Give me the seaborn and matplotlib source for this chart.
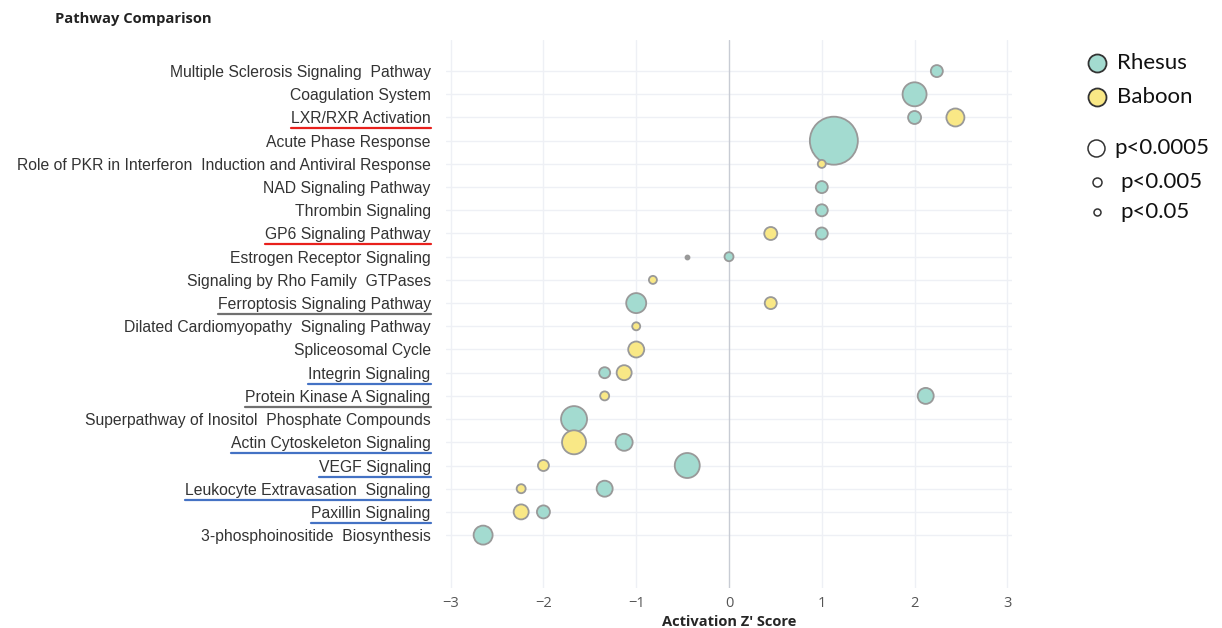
import matplotlib
matplotlib.use("Agg")
import matplotlib.pyplot as plt
import seaborn as sns
import pandas as pd

# pathways, top to bottom
pathways = [
    "Multiple Sclerosis Signaling  Pathway",
    "Coagulation System",
    "LXR/RXR Activation",
    "Acute Phase Response",
    "Role of PKR in Interferon  Induction and Antiviral Response",
    "NAD Signaling Pathway",
    "Thrombin Signaling",
    "GP6 Signaling Pathway",
    "Estrogen Receptor Signaling",
    "Signaling by Rho Family  GTPases",
    "Ferroptosis Signaling Pathway",
    "Dilated Cardiomyopathy  Signaling Pathway",
    "Spliceosomal Cycle",
    "Integrin Signaling",
    "Protein Kinase A Signaling",
    "Superpathway of Inositol  Phosphate Compounds",
    "Actin Cytoskeleton Signaling",
    "VEGF Signaling",
    "Leukocyte Extravasation  Signaling",
    "Paxillin Signaling",
    "3-phosphoinositide  Biosynthesis",
]

# Rhesus points (pathway, z-score, bubble diameter px)
rhesus_path = [0, 1, 2, 3, 5, 6, 7, 8, 10, 13, 14, 15, 16, 17, 18, 19, 20]
rhesus_z = [2.24, 2.0, 2.0, 1.13, 1.0, 1.0, 1.0, 0.0, -1.0, -1.34, 2.12, -1.67, -1.13, -0.45, -1.34, -2.0, -2.65]
rhesus_d = [12, 24, 13, 48, 12, 12, 12, 9, 20, 11, 16, 26, 17, 25, 16, 13, 19]

# Baboon points
baboon_path = [2, 4, 7, 8, 9, 10, 11, 12, 13, 14, 16, 17, 18, 19]
baboon_z = [2.44, 1.0, 0.45, -0.45, -0.82, 0.45, -1.0, -1.0, -1.13, -1.34, -1.67, -2.0, -2.24, -2.24]
baboon_d = [18, 8, 13, 4, 8, 12, 8, 16, 15, 9, 24, 11, 9, 15]

underline_colors = {
    "LXR/RXR Activation": "#e8201c",
    "GP6 Signaling Pathway": "#e8201c",
    "Ferroptosis Signaling Pathway": "#707070",
    "Protein Kinase A Signaling": "#707070",
    "Integrin Signaling": "#4472c4",
    "Actin Cytoskeleton Signaling": "#4472c4",
    "VEGF Signaling": "#4472c4",
    "Leukocyte Extravasation  Signaling": "#4472c4",
    "Paxillin Signaling": "#4472c4",
}

rhesus_color = "#a3dbd0"
baboon_color = "#f9e886"

df = pd.concat([
    pd.DataFrame({"row": rhesus_path, "z": rhesus_z, "d": rhesus_d, "species": "Rhesus"}),
    pd.DataFrame({"row": baboon_path, "z": baboon_z, "d": baboon_d, "species": "Baboon"}),
])
# the tiny estrogen baboon dot is grey
df["color"] = df["species"].map({"Rhesus": rhesus_color, "Baboon": baboon_color})
df.loc[(df["species"] == "Baboon") & (df["d"] <= 4), "color"] = "#999999"

sns.set_style("white")
plt.rcParams["font.family"] = ["Liberation Sans", "DejaVu Sans"]

fig = plt.figure(figsize=(12.22, 6.28), dpi=100)
ax = fig.add_axes([446 / 1222, 1 - 588 / 628, (1012 - 446) / 1222, (588 - 40) / 628])

# light grid
for i in range(len(pathways)):
    ax.axhline(i, color="#eef0f5", lw=1, zorder=0)
for xv in range(-3, 4):
    ax.axvline(xv, color="#c8ccd4" if xv == 0 else "#eef0f5", lw=1, zorder=0)

sizes = {v: (v * 0.72) ** 2 for v in df["d"].unique()}
for col, sub in df.groupby("color"):
    sns.scatterplot(data=sub, x="z", y="row", size="d", sizes=sizes, color=col,
                    edgecolor="#999999", linewidth=1.3, legend=False, ax=ax, zorder=3)

ax.set_xlim(-3.05, 3.05)
ax.set_ylim(len(pathways) - 1 + 2.28, -1.34)
ax.set_xticks(range(-3, 4))
ax.set_xticklabels(["\u22123", "\u22122", "\u22121", "0", "1", "2", "3"],
                   fontsize=10.5, color="#555555", fontfamily="Open Sans")
ax.set_yticks(range(len(pathways)))
ax.set_yticklabels(pathways, fontsize=11.3, color="#333333")
ax.tick_params(axis="x", length=0, pad=6)
ax.tick_params(axis="y", length=0, pad=11)
ax.set_xlabel("Activation Z' Score", fontsize=10.5, fontweight="bold", fontfamily="Open Sans", labelpad=3)
ax.set_ylabel("")
sns.despine(ax=ax, left=True, bottom=True, top=True, right=True)

# overlay in pixel coords for title, legend, underlines
ov = fig.add_axes([0, 0, 1, 1], zorder=5)
ov.set_xlim(0, 1222)
ov.set_ylim(628, 0)
ov.axis("off")
ov.patch.set_alpha(0)

ov.text(55, 19, "Pathway Comparison", fontsize=10.6, fontweight="bold", fontfamily="Open Sans",
        va="center", ha="left", color="#222222")

ov.scatter([1097], [63], s=(18 * 0.72) ** 2, color=rhesus_color, edgecolor="#333333", lw=1.3)
ov.scatter([1097], [97], s=(18 * 0.72) ** 2, color=baboon_color, edgecolor="#333333", lw=1.3)
legend_font = dict(fontsize=16, fontfamily="Lato", va="center", color="#111111")
ov.text(1117, 63, "Rhesus", **legend_font)
ov.text(1117, 97, "Baboon", **legend_font)
ov.scatter([1096], [148], s=(17 * 0.72) ** 2, color="white", edgecolor="#333333", lw=1.1)
ov.scatter([1097], [182], s=(9 * 0.72) ** 2, color="white", edgecolor="#333333", lw=1.1)
ov.scatter([1097], [212], s=(7 * 0.72) ** 2, color="white", edgecolor="#333333", lw=1.1)
ov.text(1114, 148, "p<0.0005", **legend_font)
ov.text(1120, 182, "p<0.005", **legend_font)
ov.text(1120, 212, "p<0.05", **legend_font)

fig.canvas.draw()
renderer = fig.canvas.get_renderer()
H = fig.bbox.height
for lab in ax.get_yticklabels():
    name = lab.get_text()
    if name in underline_colors:
        bb = lab.get_window_extent(renderer)
        ypix = H - bb.y0 + 2
        ov.plot([bb.x0, bb.x1], [ypix, ypix], color=underline_colors[name], lw=1.6)

fig.savefig("out.png", dpi=100, facecolor="white")
